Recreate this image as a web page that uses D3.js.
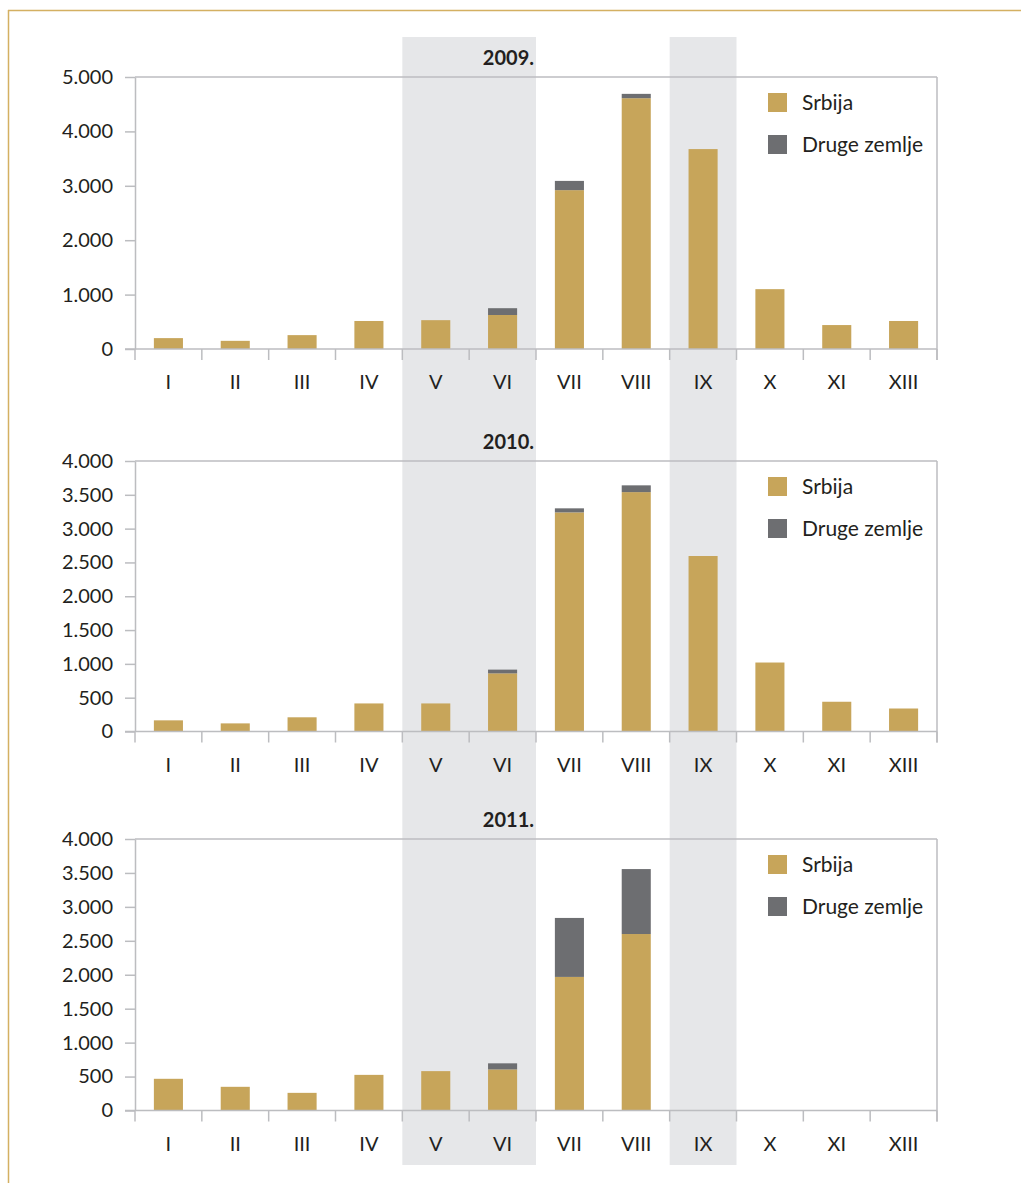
<!DOCTYPE html>
<html>
<head>
<meta charset="utf-8">
<script src="https://cdn.jsdelivr.net/npm/d3@7"></script>
<style>
  html, body { margin: 0; padding: 0; background: #fff; }
  svg { display: block; }
  text { font-family: Lato, "Open Sans", sans-serif; fill: #231f20; }
</style>
</head>
<body>
<svg id="chart" width="1021" height="1183"></svg>
<script>
// ---- data ----
const months = ["I", "II", "III", "IV", "V", "VI", "VII", "VIII", "IX", "X", "XI", "XIII"];
const years = ["2009.", "2010.", "2011."];
const seriesNames = ["Srbija", "Druge zemlje"];
const highlighted = [["V", "VI"], ["IX"]];

const srbija2009 = [200, 150, 255, 515, 530, 625, 2920, 4610, 3675, 1100, 440, 515];
const druge2009  = [0, 0, 0, 0, 0, 125, 170, 80, 0, 0, 0, 0];
const srbija2010 = [165, 120, 210, 415, 415, 860, 3240, 3540, 2595, 1020, 440, 340];
const druge2010  = [0, 0, 0, 0, 0, 55, 60, 100, 0, 0, 0, 0];
const srbija2011 = [467, 349, 260, 525, 580, 605, 1968, 2600, 0, 0, 0, 0];
const druge2011  = [0, 0, 0, 0, 0, 90, 869, 957, 0, 0, 0, 0];

const yMaxes = [5000, 4000, 4000];
const yTicks2009 = [0, 1000, 2000, 3000, 4000, 5000];
const yTicks2010 = [0, 500, 1000, 1500, 2000, 2500, 3000, 3500, 4000];
const yTicks2011 = [0, 500, 1000, 1500, 2000, 2500, 3000, 3500, 4000];

const srbijaAll = [srbija2009, srbija2010, srbija2011];
const drugeAll = [druge2009, druge2010, druge2011];
const yTicksAll = [yTicks2009, yTicks2010, yTicks2011];

// ---- layout ----
const colors = { srbija: "#c7a55a", druge: "#6d6e71", axis: "#bcbdc0", shade: "#e6e7e9", frame: "#d4b062" };
const left = 135, right = 937;
const panelTops = [77, 461, 839];
const panelBottoms = [349, 731.5, 1110.5];

const svg = d3.select("#chart");
const fmt = d3.formatLocale({ decimal: ",", thousands: ".", grouping: [3], currency: ["", ""] }).format(",d");

const x = d3.scaleBand().domain(months).range([left, right]).padding(0);
const bw = x.bandwidth();
const barW = bw * 0.435;

// frame
svg.append("line").attr("x1", 8).attr("x2", 1021).attr("y1", 10.5).attr("y2", 10.5)
  .attr("stroke", colors.frame).attr("stroke-width", 1.5);
svg.append("line").attr("x1", 8.5).attr("x2", 8.5).attr("y1", 10).attr("y2", 1183)
  .attr("stroke", colors.frame).attr("stroke-width", 1.5);

// shaded columns
highlighted.forEach(group => {
  const x0 = x(group[0]);
  const x1 = x(group[group.length - 1]) + bw;
  svg.append("rect").attr("x", x0).attr("y", 37).attr("width", x1 - x0).attr("height", 1165 - 37)
    .attr("fill", colors.shade);
});

years.forEach((yr, i) => {
  const top = panelTops[i], bottom = panelBottoms[i];
  const y = d3.scaleLinear().domain([0, yMaxes[i]]).range([bottom, top]);
  const g = svg.append("g");

  // stacked data
  const rows = months.map((m, j) => ({ month: m, srbija: srbijaAll[i][j], druge: drugeAll[i][j] }));
  const stack = d3.stack().keys(["srbija", "druge"])(rows);

  // plot frame (top + right)
  g.append("line").attr("x1", left).attr("x2", right).attr("y1", top).attr("y2", top)
    .attr("stroke", colors.axis).attr("stroke-width", 1.5);
  g.append("line").attr("x1", right).attr("x2", right).attr("y1", top).attr("y2", bottom + 11)
    .attr("stroke", colors.axis).attr("stroke-width", 1.5);

  // bars
  stack.forEach(layer => {
    g.append("g").selectAll("rect").data(layer.filter(d => d[1] - d[0] > 0)).join("rect")
      .attr("x", d => x(d.data.month) + (bw - barW) / 2)
      .attr("width", barW)
      .attr("y", d => y(d[1]))
      .attr("height", d => y(d[0]) - y(d[1]))
      .attr("fill", layer.key === "srbija" ? colors.srbija : colors.druge);
  });

  // y axis
  const yAxis = g.append("g").attr("transform", `translate(${left},0)`)
    .call(d3.axisLeft(y).tickValues(yTicksAll[i]).tickSize(10).tickSizeOuter(0).tickPadding(12).tickFormat(fmt));
  yAxis.select(".domain").attr("stroke", colors.axis).attr("stroke-width", 1.5);
  yAxis.selectAll(".tick line").attr("stroke", colors.axis).attr("stroke-width", 1.5);
  yAxis.selectAll(".tick text").attr("font-size", 20).attr("font-family", "Lato, sans-serif").attr("fill", "#231f20");

  // x axis baseline
  g.append("line").attr("x1", left - 10).attr("x2", right).attr("y1", bottom).attr("y2", bottom)
    .attr("stroke", colors.axis).attr("stroke-width", 1.5);
  // boundary ticks
  const bounds = months.map(m => x(m)).concat([right]);
  g.append("g").selectAll("line").data(bounds).join("line")
    .attr("x1", d => d).attr("x2", d => d).attr("y1", bottom).attr("y2", bottom + 11)
    .attr("stroke", colors.axis).attr("stroke-width", 1.5);
  // month labels
  g.append("g").selectAll("text").data(months).join("text")
    .attr("x", d => x(d) + bw / 2).attr("y", bottom + 40)
    .attr("text-anchor", "middle").attr("font-size", 20)
    .text(d => d);

  // title
  g.append("text").attr("x", x("VI") + bw - 2).attr("y", top - 12)
    .attr("text-anchor", "end").attr("font-size", 20).attr("font-weight", "bold")
    .text(yr);

  // legend
  const legend = g.append("g").attr("transform", `translate(768,${top + 16})`);
  seriesNames.forEach((name, k) => {
    legend.append("rect").attr("x", 0).attr("y", k * 42).attr("width", 19).attr("height", 19)
      .attr("fill", k === 0 ? colors.srbija : colors.druge);
    legend.append("text").attr("x", 34).attr("y", k * 42 + 9.5).attr("dy", "0.36em")
      .attr("font-size", 21).text(name);
  });
});
</script>
</body>
</html>
